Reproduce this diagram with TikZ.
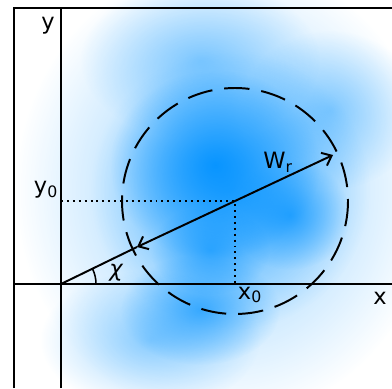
\documentclass[tikz,border=0pt]{standalone}
\usepackage{fontspec}
\setmainfont{DejaVu Sans}
\usetikzlibrary{fadings,arrows.meta}
\tikzfading[name=fuzzy, inner color=transparent!0, outer color=transparent!100]
\definecolor{cloudblue}{RGB}{0,145,255}
\begin{document}
\begin{tikzpicture}[x=0.025cm,y=-0.025cm]
    % Styles for the frame, cloud, ring and vectors
    \tikzset{
        axis/.style={
            line width=1.4pt
        },
        cloud/.style={
            fill=cloudblue,
            path fading=fuzzy
        },
        ring/.style={
            line width=1.4pt,
            dash pattern=on 18pt off 8.5pt
        },
        guide/.style={
            line width=1.4pt,
            dash pattern=on 1.4pt off 2.8pt
        },
        vec/.style={
            line width=1.4pt,
            {Straight Barb[length=6pt,width=10pt]}-{Straight Barb[length=6pt,width=10pt]}
        },
        lbl/.style={
            font=\fontsize{16}{18}\selectfont,
            inner sep=0pt
        }
    }
    \useasboundingbox (0,0) rectangle (392,388);
    % Blurred blue cloud
    \fill[cloud, fill opacity=0.45] (225,190) ellipse[x radius=210, y radius=230];
    \fill[cloud, fill opacity=0.4] (200,60) ellipse[x radius=120, y radius=80];
    \fill[cloud, fill opacity=0.4] (330,110) ellipse[x radius=90, y radius=80];
    \fill[cloud, fill opacity=0.4] (150,340) ellipse[x radius=110, y radius=70];
    \fill[cloud, fill opacity=0.6] (230,190) ellipse[x radius=140, y radius=140];
    \fill[cloud, fill opacity=0.65] (200,310) ellipse[x radius=80, y radius=55];
    \fill[cloud, fill opacity=0.9] (215,165) ellipse[x radius=105, y radius=95];
    \fill[cloud, fill opacity=0.7] (290,215) ellipse[x radius=60, y radius=55];
    \fill[cloud, fill opacity=0.6] (210,250) ellipse[x radius=60, y radius=45];
    % Key points
    \coordinate (origin) at (61,284);
    \coordinate (centre) at (235,201);
    \coordinate (tail) at (137,247);
    \coordinate (head) at (333,155);
    \coordinate (xfoot) at (235,284);
    \coordinate (yfoot) at (61,201);
    % Frame and axes
    \draw[axis] (14,388) -- (14,8) -- (392,8);
    \draw[axis] (61,388) -- (61,8);
    \draw[axis] (14,284) -- (392,284);
    % Dotted guides to the centre
    \draw[guide] (yfoot) -- (centre) -- (xfoot);
    % Dashed ring
    \draw[ring] (centre) circle[radius=113];
    % Vector from the origin and the diameter
    \draw[axis] (origin) -- (tail);
    \draw[vec] (tail) -- (head);
    \draw[line width=1.1pt] ([xshift=35*0.025cm] origin) arc[start angle=0, end angle=-25.5, radius=35];
    % Labels
    \node[lbl] (ylab) at (48,26) {y};
    \node[lbl] (y0lab) at (46,190) {y\textsubscript{0}};
    \node[lbl] (x0lab) at (250,295) {x\textsubscript{0}};
    \node[lbl] (xlab) at (380,298) {x};
    \node[lbl] (wlab) at (278,162) {W\textsubscript{r}};
    \node[lbl] (chilab) at (116,273) {\itshape χ};
\end{tikzpicture}
\end{document}
